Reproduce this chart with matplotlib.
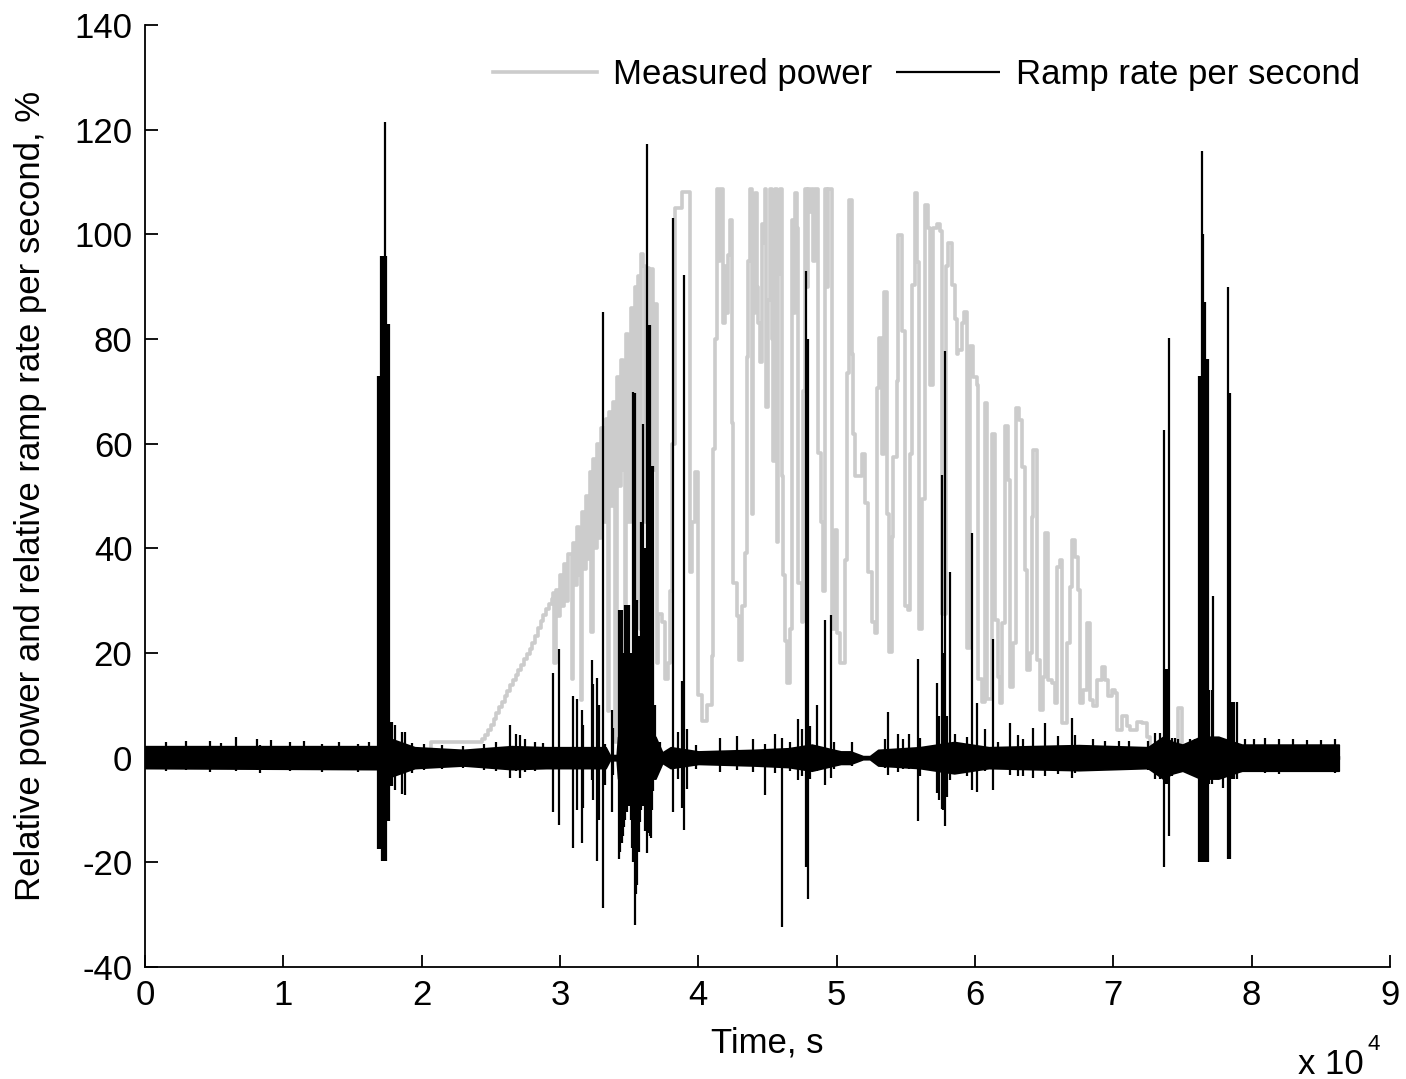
import numpy as np
import matplotlib
matplotlib.use('Agg')
import matplotlib.pyplot as plt
from matplotlib.ticker import FuncFormatter, MultipleLocator

plt.rcParams['font.family'] = ['Liberation Sans', 'DejaVu Sans']
plt.rcParams['axes.unicode_minus'] = False

# measured power, % (time in s) - idle part and start-up ramp
rise_t = [0, 20500, 20700, 24200, 24400, 24600, 24800, 25000, 25200, 25400, 25600, 25800,
          26000, 26200, 26400, 26600, 26800, 27000, 27200, 27400, 27600, 27800, 28000, 28200,
          28400, 28600, 28800, 29000, 29200, 29400]
rise_v = [0, 0, 3, 3, 3.6, 4.4, 5.3, 6.3, 7.4, 8.5, 9.6, 10.7,
          11.8, 12.8, 13.8, 14.8, 15.8, 16.8, 17.8, 18.8, 19.8, 20.8, 22, 23.3,
          24.8, 26.2, 27.3, 28.4, 29.4, 30.4]

# measured power - fluctuating wedge before full output
wedge_t = [29500, 29600, 29700, 29850, 30000, 30150, 30300, 30450, 30600, 30850, 30950, 31100,
           31250, 31400, 31500, 31600, 31750, 31900, 32050, 32175, 32250, 32400, 32550, 32700,
           32850, 33000, 33150, 33300, 33450, 33550, 33700, 33850, 33950, 34100, 34250, 34400,
           34550, 34700, 34800, 34950, 35100, 35250, 35400, 35550, 35650, 35780, 35850, 36000,
           36150, 36300, 36450, 36600, 36750, 36875, 37000, 37116, 37357, 37598, 37839, 37950,
           38080, 38321]
wedge_v = [31.5, 18, 32, 27, 35, 29, 37, 30, 39, 15, 41, 33,
           44, 35, 11, 47, 36, 50, 38, 54.5, 24, 57, 40, 60,
           42, 63, 45, 64.7, 9, 66, 48, 68, 3, 72.8, 52, 76,
           55, 14, 81, 45, 86, 58, 90, 30, 92, 24.5, 96.2, 94,
           45, 93.5, 50, 93.3, 55, 86.7, 18, 27.4, 26, 15, 18, 31.8,
           60, 105]

# measured power - near full output
peak_t = [38800, 39285, 39400, 39550, 39760, 40000, 40240, 40600, 40970, 41090, 41200, 41330,
          41450, 41550, 41690, 41810, 41930, 42050, 42170, 42290, 42410, 42530, 42770, 42970,
          43140, 43380, 43500, 43620, 43740, 43860, 43980, 44100, 44220, 44340, 44460, 44580,
          44700, 44800, 44890, 45060, 45180, 45300, 45430, 45550, 45670, 45790, 45910, 46030,
          46150, 46270, 46440, 46630, 46750, 46870, 46990, 47110, 47230, 47470, 47600, 47710,
          47830, 47950, 48080, 48200, 48320, 48440, 48560, 48680, 48850, 49040, 49160, 49280,
          49400, 49520, 49640, 49880, 50000, 50250]
peak_v = [108, 108, 35.5, 45, 54.5, 12, 7, 10, 19.4, 58.9, 80, 108.6,
          95, 108.6, 108.6, 83, 94, 85, 96, 102.8, 64, 33.3, 27, 18.7,
          28.9, 39.2, 76.5, 95, 108.6, 46.5, 85, 107.9, 90, 83, 75.7, 102,
          98.4, 108.6, 67, 87.4, 108.6, 80, 56.7, 108.6, 41.3, 92.5, 108.6, 53.8,
          35, 22.3, 14.3, 24.5, 102.8, 85, 107.9, 101.3, 33.3, 26, 70, 108.6,
          90, 108.6, 104.3, 108.6, 95, 108.6, 108.6, 58.2, 45, 31.8, 108.6, 90,
          108.6, 108.6, 24.5, 43.5, 23.8, 18]

# measured power - decline and shut-down
fall_t = [50360, 50600, 50720, 50910, 51080, 51200, 51300, 51570, 51810, 52050, 52290, 52530,
          52770, 52890, 53080, 53250, 53420, 53610, 53810, 53980, 54100, 54340, 54460, 54700,
          54870, 54940, 55180, 55300, 55420, 55660, 55830, 55980, 56140, 56390, 56630, 56750,
          56990, 57230, 57470, 57590, 57900, 58070, 58310, 58550, 58680, 58800, 59040, 59210,
          59400, 59640, 59880, 60120, 60240, 60480, 60720, 60840, 61200, 61450, 61690, 61810,
          61930, 62170, 62420, 62540, 62780, 62970, 63210, 63380, 63620, 63740, 63980, 64100,
          64220, 64460, 64710, 64950, 65070, 65310, 65550, 65790, 65910, 66150, 66270, 66630,
          66870, 66990, 67240, 67480, 67600, 67840, 68080, 68320, 68560, 68800, 69160, 69400,
          69650, 69890, 70130, 70250, 70610, 70970, 71210, 71690, 72060, 72420, 72660, 73620,
          74590, 74700, 74950, 75300, 86300]
fall_v = [18, 37.7, 73.5, 106.5, 77.2, 61.8, 53.8, 53.8, 58, 48.7, 35.5, 26,
          23.8, 70.6, 80.1, 58, 88.9, 46.5, 20.1, 42.1, 57.4, 72, 99.9, 81.6,
          81.6, 28.9, 28.2, 58, 90.3, 107.9, 94.7, 24.5, 49.4, 105.7, 101.3, 71.3,
          101.3, 102, 100.6, 27.4, 94, 98.4, 90.3, 83.8, 77.2, 77.9, 83, 85.2,
          20.9, 78.7, 72.8, 71.3, 15, 10.6, 67.7, 11.3, 61.8, 26.3, 15.5, 10.4,
          25.7, 63.3, 53.1, 13.6, 21.9, 66.8, 64.5, 55.6, 35.9, 16.8, 20, 46,
          58.8, 18.7, 9.1, 15.5, 42.9, 14.9, 14.2, 10.4, 36.5, 37.8, 6.6, 21.9,
          32.7, 41.6, 38.4, 32.1, 10.4, 13, 25.7, 11, 9.8, 14.9, 17.4, 14.9,
          11.7, 12.9, 12.3, 5.3, 7.9, 6, 5.3, 6.9, 6.6, 4, 2.1, 1.5,
          1.5, 9.5, 2, 0, 0]

power_t = rise_t + wedge_t + peak_t + fall_t
power_v = rise_v + wedge_v + peak_v + fall_v

# ramp rate per second: background noise envelope
band_t = [0, 16800, 17900, 19500, 23000, 26500, 29000, 33300, 33600, 34100, 34200, 36900,
          37400, 37700, 38000, 40000, 44000, 46500, 48200, 49800, 50300, 51000, 51900, 52400,
          53000, 56000, 58500, 61000, 64000, 67500, 72500, 73600, 74300, 75000, 76300, 77600,
          78700, 79300, 82000, 86300]
band_hi = [2.2, 2.2, 3.5, 2.0, 1.5, 2.2, 2.0, 2.0, 0.5, 0.5, 4.0, 4.0,
           1.0, 1.5, 2.0, 1.2, 1.5, 1.8, 2.5, 1.5, 1.2, 1.2, 0.3, 0.3,
           1.5, 2.0, 3.0, 2.0, 2.2, 2.4, 2.0, 4.0, 3.0, 2.5, 4.0, 4.0,
           3.0, 2.5, 2.5, 2.5]
band_lo = [-2.0, -2.2, -3.5, -2.0, -1.5, -2.2, -2.0, -2.0, -0.5, -0.5, -4.0, -4.0,
           -1.0, -1.5, -2.0, -1.2, -1.5, -1.8, -2.5, -1.5, -1.2, -1.2, -0.3, -0.3,
           -1.5, -2.0, -3.0, -2.0, -2.2, -2.4, -2.0, -4.0, -3.0, -2.5, -4.0, -4.0,
           -3.0, -2.5, -2.5, -2.5]

# ramp rate per second: individual excursions (time, max, min)
spike_t = [1500, 3000, 4700, 5500, 6600, 8070, 8300, 9100, 10500, 11500, 12800, 14000, 15400, 16200,
           16850, 16950, 17050, 17150, 17250, 17350, 17420, 17500, 17580, 17660, 17740, 17830,
           18100, 18560, 18800, 19300, 20200, 21500, 23000, 24500, 25400, 26390, 26800, 27100,
           27500, 28200, 28800,
           29520, 29950, 30970, 31200, 31570, 31700, 32290, 32400, 32650, 32800, 33090, 33250,
           33730, 33850,
           34290, 34370, 34460, 34540, 34630, 34720, 34820, 34910, 35010, 35100, 35180, 35300,
           35420, 35500, 35590, 35690, 35790, 35880, 35980, 36120, 36270, 36390, 36480, 36560,
           36650, 36750, 36870,
           37200, 38200, 38550, 38850, 38970, 39150, 39800, 41570, 42770, 43970, 44820, 45540,
           46020, 46600, 47230, 47470, 47780, 47950, 48100, 48560, 49160, 49570, 49800, 51090,
           53500, 53740, 54460, 54820, 55250, 55860, 56030, 57230, 57400, 57590, 57700, 57830,
           57950, 58190, 58550, 59400, 59760, 60120, 60720, 61330, 61700, 62540, 63140, 63500,
           64220, 65070, 66000, 66990, 67230, 68500, 69400, 70400, 71100, 72500, 73000, 73370,
           73690, 73810, 73930, 74050, 74220, 74460, 74700, 75540, 75900,
           76220, 76310, 76410, 76510, 76600, 76700, 76820, 76940, 77110, 77230, 77470, 77710,
           77950, 78310, 78430, 78560, 78750, 78960,
           79500, 80200, 81000, 82000, 83000, 84000, 85000, 86000]
spike_hi = [3.0, 3.2, 3.1, 2.8, 3.9, 3.5, 2.5, 3.3, 2.9, 3.2, 2.7, 2.9, 2.6, 3.0,
            72.9, 72.9, 95.8, 95.8, 95.8, 121.4, 95.8, 82.9, 82.9, 82.9, 6.9, 6.9,
            6.2, 5.0, 5.0, 2.8, 2.6, 2.4, 2.3, 2.6, 2.9, 6.2, 4.5, 4.3,
            3.5, 3.0, 2.8,
            16.2, 20.7, 11.7, 11.2, 9.2, 6.3, 18.7, 14.0, 15.2, 10.0, 85.2, 2.7,
            9.2, 5.7,
            28.2, 28.2, 28.2, 20.0, 14.7, 29.2, 29.2, 29.2, 29.2, 20.0, 14.7, 69.9,
            69.7, 30.2, 30.2, 23.2, 23.2, 45.0, 63.7, 40.0, 117.2, 82.7, 82.7, 55.7,
            55.7, 55.7, 10.0,
            3.0, 103.2, 5.0, 14.7, 92.2, 5.5, 2.5, 3.7, 4.1, 3.5, 2.7, 4.5,
            3.8, 3.0, 7.3, 5.5, 93.0, 80.0, 6.0, 10.1, 26.3, 27.2, 3.0, 3.0,
            3.5, 8.7, 4.5, 3.5, 4.5, 18.9, 3.8, 14.3, 8.0, 54.1, 20.0, 77.7,
            8.0, 35.5, 4.5, 4.0, 43.0, 10.5, 5.4, 22.6, 3.0, 6.6, 4.4, 3.6,
            5.6, 6.6, 4.1, 7.5, 4.4, 3.5, 3.2, 3.2, 3.2, 3.2, 4.8, 4.8,
            62.6, 16.9, 16.9, 80.2, 3.7, 3.7, 3.5, 3.5, 3.5,
            72.9, 72.9, 116.0, 100.0, 87.0, 76.2, 76.2, 12.9, 12.9, 30.8, 3.5, 3.5,
            3.5, 90.0, 69.6, 10.7, 10.7, 10.7,
            3.5, 3.5, 3.8, 3.5, 3.5, 3.3, 3.4, 3.6]
spike_lo = [-2.5, -2.4, -2.8, -2.2, -2.6, -2.4, -3.0, -2.2, -2.6, -2.3, -2.8, -2.2, -2.7, -2.4,
            -17.4, -17.4, -17.4, -19.7, -19.7, -19.7, -19.7, -12.1, -12.1, -12.1, -5.5, -5.5,
            -6.2, -6.9, -7.1, -3.0, -2.3, -2.2, -2.0, -2.3, -2.6, -3.9, -2.5, -3.9,
            -2.8, -2.5, -2.2,
            -10.3, -12.8, -17.3, -10.0, -16.3, -9.7, -4.3, -8.0, -19.8, -12.0, -28.8, -5.3,
            -10.3, -3.4,
            -19.3, -18.0, -16.3, -15.0, -13.3, -12.0, -10.3, -9.0, -9.3, -12.0, -17.3, -20.0,
            -32.0, -26.0, -24.3, -18.0, -12.3, -10.0, -9.3, -14.0, -18.3, -14.3, -15.0, -15.3,
            -10.0, -6.3, -4.0,
            -2.0, -10.3, -4.0, -9.7, -13.8, -6.0, -2.1, -2.8, -2.4, -2.8, -7.1, -3.0,
            -32.3, -2.5, -4.3, -3.5, -20.9, -27.0, -4.0, -2.5, -5.2, -3.8, -2.2, -1.5,
            -2.0, -3.4, -2.8, -2.2, -2.2, -12.1, -3.5, -6.7, -8.0, -9.8, -10.0, -13.1,
            -7.5, -4.2, -2.5, -3.5, -6.1, -6.5, -2.5, -6.1, -2.0, -3.3, -3.5, -3.5,
            -3.8, -3.5, -3.2, -3.9, -3.0, -2.2, -2.2, -2.2, -2.2, -2.4, -4.0, -4.0,
            -20.8, -5.0, -5.0, -14.9, -3.5, -3.0, -2.5, -1.5, -2.0,
            -20.0, -20.0, -20.0, -20.0, -20.0, -20.0, -20.0, -5.0, -5.0, -3.0, -2.8, -2.8,
            -5.8, -19.3, -19.3, -4.0, -4.0, -4.0,
            -2.5, -2.5, -3.0, -3.2, -2.5, -2.8, -2.6, -3.0]

FS = 25

fig = plt.figure(figsize=(14.06, 10.79), dpi=100)
ax = fig.add_axes([0.1031, 0.1038, 0.8855, 0.873])

gray = '#cccccc'
ax.plot(power_t, power_v, color=gray, lw=2.6, drawstyle='steps-post', zorder=1,
        label='Measured power')
ax.fill_between(band_t, band_lo, band_hi, color='black', lw=1.2, zorder=2)
ax.vlines(spike_t, spike_lo, spike_hi, color='black', lw=1.6, zorder=3,
          label='Ramp rate per second')

ax.set_xlim(0, 90000)
ax.set_ylim(-40, 140)
ax.xaxis.set_major_locator(MultipleLocator(10000))
ax.yaxis.set_major_locator(MultipleLocator(20))
ax.xaxis.set_major_formatter(FuncFormatter(lambda v, p: '%d' % round(v / 10000)))

for s in ['top', 'right']:
    ax.spines[s].set_visible(False)
for s in ['left', 'bottom']:
    ax.spines[s].set_linewidth(1.3)
ax.tick_params(direction='in', length=9, width=1.3, labelsize=FS, pad=9)

ax.set_xlabel('Time, s', fontsize=FS, va='top')
ax.xaxis.set_label_coords(0.5, -0.063)
ax.set_ylabel('Relative power and relative ramp rate per second, %', fontsize=FS)
ax.yaxis.set_label_coords(-0.079, 0.5)

fig.text(1364 / 1406, 1 - 1074 / 1079, 'x 10', fontsize=FS, ha='right', va='baseline')
fig.text(1367 / 1406, 1 - 1050 / 1079, '4', fontsize=16, ha='left', va='baseline')

ax.legend(loc='center right', bbox_to_anchor=(0.976, 0.947), ncol=2, frameon=False,
          fontsize=FS, handlelength=3.0, handletextpad=0.45, columnspacing=0.7,
          borderpad=0, borderaxespad=0)

fig.savefig('out.png', dpi=100)
